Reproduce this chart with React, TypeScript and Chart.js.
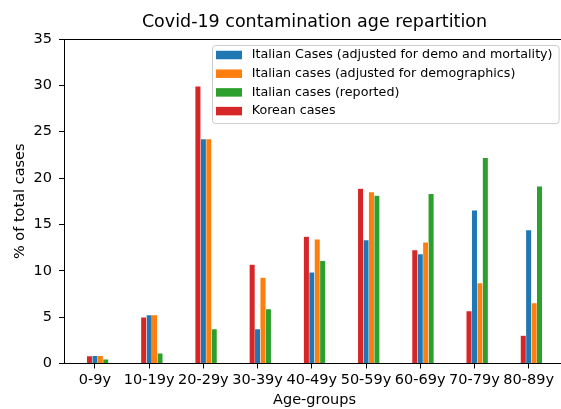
import React, { useEffect, useRef } from 'react';
import { Chart, registerables } from 'chart.js';

Chart.register(...registerables);

const categories = ['0-9y', '10-19y', '20-29y', '30-39y', '40-49y', '50-59y', '60-69y', '70-79y', '80-89y'];
const koreanCases = [0.81, 4.97, 29.9, 10.68, 13.7, 18.87, 12.22, 5.65, 3.0];
const italianAdjDemoMort = [0.84, 5.22, 24.2, 3.72, 9.82, 13.3, 11.79, 16.53, 14.38];
const italianAdjDemo = [0.84, 5.22, 24.2, 9.28, 13.4, 18.5, 13.08, 8.67, 6.52];
const italianReported = [0.45, 1.1, 3.72, 5.87, 11.07, 18.1, 18.29, 22.17, 19.1];

const titleText = 'Covid-19 contamination age repartition';
const xTitle = 'Age-groups';
const yTitle = '% of total cases';
const yTicks = [0, 5, 10, 15, 20, 25, 30, 35];

const FAMILY = '"DejaVu Sans", sans-serif';
const BLUE = '#1f77b4';
const ORANGE = '#ff7f0e';
const GREEN = '#2ca02c';
const RED = '#d62728';

// bar offsets within each group, in category units (matplotlib style)
const barWidth = 0.1;
const seriesOffsets = [-0.1, 0, 0.1, 0.2];

const frameLegendPlugin = {
  id: 'frameLegend',
  afterDraw(chart: any) {
    const { ctx, chartArea } = chart;
    ctx.save();
    // top & right spines
    ctx.strokeStyle = '#000';
    ctx.lineWidth = 1;
    ctx.beginPath();
    ctx.moveTo(chartArea.left, Math.round(chartArea.top) + 0.5);
    ctx.lineTo(chartArea.right, Math.round(chartArea.top) + 0.5);
    ctx.lineTo(chartArea.right, chartArea.bottom);
    ctx.stroke();

    // legend box
    const order = [1, 2, 3, 0];
    const items = order.map((i) => chart.data.datasets[i]);
    const fontSize = 12.7;
    ctx.font = `${fontSize}px ${FAMILY}`;
    const maxW = Math.max(...items.map((d: any) => ctx.measureText(d.label).width));
    const swW = 26, swH = 8.5, padL = 4, gap = 9.7, padR = 6, rowH = 18.7, padT = 10, padB = 12;
    const w = padL + swW + gap + maxW + padR;
    const h = padT + rowH * (items.length - 1) + padB;
    const x = Math.round(chartArea.right - 6.5 - w);
    const y = Math.round(chartArea.top + 6);
    ctx.beginPath();
    if (ctx.roundRect) ctx.roundRect(x + 0.5, y + 0.5, w, h, 3);
    else ctx.rect(x + 0.5, y + 0.5, w, h);
    ctx.fillStyle = 'rgba(255,255,255,0.8)';
    ctx.fill();
    ctx.strokeStyle = '#cccccc';
    ctx.lineWidth = 1;
    ctx.stroke();
    items.forEach((d: any, k: number) => {
      const cy = y + padT + k * rowH;
      ctx.fillStyle = d.backgroundColor;
      ctx.fillRect(x + padL, cy - swH / 2, swW, swH);
      ctx.fillStyle = '#000';
      ctx.textBaseline = 'middle';
      ctx.textAlign = 'left';
      ctx.fillText(d.label, x + padL + swW + gap, cy);
    });
    ctx.restore();
  },
};

export default function App() {
  const canvasRef = useRef<HTMLCanvasElement | null>(null);

  useEffect(() => {
    if (!canvasRef.current) return;
    const series = [
      { label: 'Korean cases', values: koreanCases, color: RED },
      { label: 'Italian Cases (adjusted for demo and mortality)', values: italianAdjDemoMort, color: BLUE },
      { label: 'Italian cases (adjusted for demographics)', values: italianAdjDemo, color: ORANGE },
      { label: 'Italian cases (reported)', values: italianReported, color: GREEN },
    ];
    const lo = seriesOffsets[0] - barWidth / 2;
    const hi = categories.length - 1 + seriesOffsets[seriesOffsets.length - 1] + barWidth / 2;
    const margin = 0.05 * (hi - lo);
    const tickFont = { family: FAMILY, size: 14.5 };

    const chart = new Chart(canvasRef.current, {
      type: 'bar',
      data: {
        datasets: series.map((s, si) => ({
          label: s.label,
          data: s.values.map((v, i) => ({ x: i + seriesOffsets[si], y: v })),
          backgroundColor: s.color,
          borderColor: 'rgba(255,255,255,0.9)',
          borderWidth: 0.5,
          grouped: false,
          barPercentage: 1,
          categoryPercentage: 1,
        })),
      },
      options: {
        responsive: false,
        animation: false,
        devicePixelRatio: 1,
        layout: { padding: { left: 0, right: 1, top: 0, bottom: 0 } },
        plugins: {
          legend: { display: false },
          tooltip: { enabled: false },
          title: {
            display: true,
            text: titleText,
            fullSize: false,
            color: '#000',
            font: { family: FAMILY, size: 17.5, weight: 'normal' },
            padding: { top: 12, bottom: 6 },
          },
        },
        scales: {
          x: {
            type: 'linear',
            offset: false,
            min: lo - margin,
            max: hi + margin,
            afterBuildTicks: (s: any) => {
              s.ticks = categories.map((_, i) => ({ value: i }));
            },
            afterFit: (s: any) => {
              s.height = 45.5;
            },
            ticks: {
              callback: (v: any) => categories[v],
              font: tickFont,
              color: '#000',
              padding: 3.5,
              maxRotation: 0,
              autoSkip: false,
            },
            grid: { display: true, offset: false, drawOnChartArea: false, drawTicks: true, tickLength: 5, tickColor: '#000', tickWidth: 1 },
            border: { display: true, color: '#000', width: 1 },
            title: { display: true, text: xTitle, color: '#000', font: tickFont, padding: { top: 0, bottom: 0.3 } },
          },
          y: {
            type: 'linear',
            min: yTicks[0],
            max: yTicks[yTicks.length - 1],
            afterBuildTicks: (s: any) => {
              s.ticks = yTicks.map((v) => ({ value: v }));
            },
            afterFit: (s: any) => {
              s.width = 64;
            },
            ticks: { font: tickFont, color: '#000', padding: 7 },
            grid: { display: true, drawOnChartArea: false, drawTicks: true, tickLength: 5, tickColor: '#000', tickWidth: 1 },
            border: { display: true, color: '#000', width: 1 },
            title: { display: true, text: yTitle, color: '#000', font: tickFont, padding: { top: 11.7, bottom: 0 } },
          },
        },
      },
      plugins: [frameLegendPlugin],
    } as any);
    return () => chart.destroy();
  }, []);

  return (
    <div style={{ position: 'fixed', left: 0, top: 0, width: 561, height: 409, overflow: 'hidden', background: '#fff' }}>
      <canvas ref={canvasRef} width={566} height={409} style={{ display: 'block' }} />
    </div>
  );
}
